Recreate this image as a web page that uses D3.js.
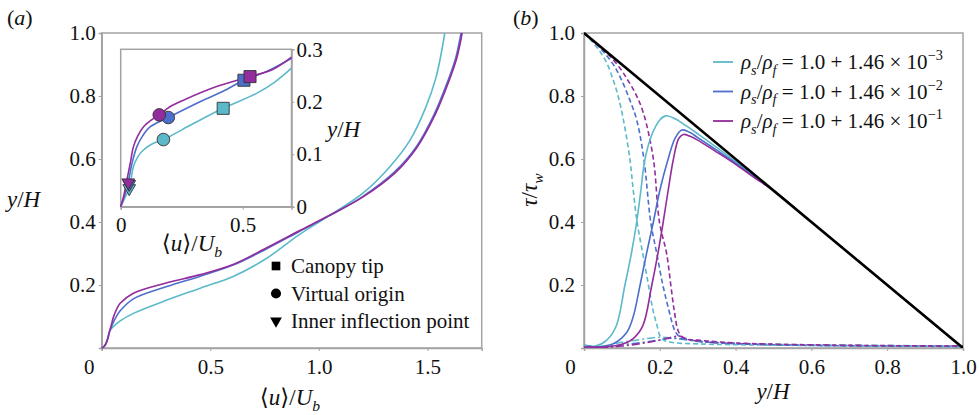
<!DOCTYPE html>
<html><head><meta charset="utf-8">
<script src="https://cdn.jsdelivr.net/npm/d3@7"></script>
<style>html,body{margin:0;padding:0;background:#fff;}svg{display:block;}</style>
</head><body>
<svg id="c" width="979" height="415"></svg>
<script>
// ---------------- DATA ----------------
const seriesLabels = ["−3", "−2", "−1"];   // exponent of 1.46 × 10^n
// Panel (a): mean velocity profiles  [u/Ub, y/H]
const profileCyan = [[0,0],[0.01,0.004],[0.02,0.015],[0.028,0.03],[0.035,0.05],[0.045,0.062],[0.06,0.072],[0.085,0.086],[0.146,0.11],[0.3,0.152],[0.454,0.19],[0.608,0.228],[0.76,0.285],[0.91,0.36],[1.04,0.417],[1.2,0.49],[1.32,0.57],[1.42,0.66],[1.49,0.76],[1.54,0.86],[1.58,1.0]];
const profileBlue = [[0,0],[0.01,0.004],[0.02,0.015],[0.028,0.03],[0.035,0.05],[0.045,0.068],[0.054,0.082],[0.07,0.103],[0.085,0.118],[0.146,0.156],[0.3,0.195],[0.454,0.228],[0.608,0.264],[0.76,0.315],[0.91,0.37],[1.04,0.417],[1.2,0.48],[1.35,0.56],[1.45,0.64],[1.53,0.74],[1.59,0.84],[1.63,0.92],[1.655,1.0]];
const profilePurple = [[0,0],[0.01,0.004],[0.02,0.015],[0.028,0.03],[0.035,0.05],[0.045,0.075],[0.054,0.098],[0.07,0.125],[0.085,0.142],[0.146,0.174],[0.3,0.207],[0.454,0.233],[0.608,0.266],[0.76,0.318],[0.91,0.372],[1.04,0.418],[1.2,0.478],[1.35,0.555],[1.45,0.635],[1.535,0.74],[1.595,0.84],[1.635,0.92],[1.66,1.0]];
// Inset (zoom of near-wall region)
const insetCyan = [[0,0],[0.015,0.015],[0.035,0.035],[0.052,0.076],[0.07,0.095],[0.093,0.108],[0.13,0.12],[0.175,0.128],[0.3,0.159],[0.42,0.1875],[0.557,0.216],[0.63,0.237],[0.7,0.264]];
const insetBlue = [[0,0],[0.015,0.02],[0.03,0.045],[0.045,0.08],[0.066,0.114],[0.09,0.135],[0.12,0.152],[0.195,0.17],[0.325,0.2],[0.42,0.22],[0.505,0.241],[0.6,0.258],[0.7,0.283]];
const insetPurple = [[0,0],[0.012,0.02],[0.025,0.05],[0.04,0.085],[0.052,0.114],[0.07,0.135],[0.093,0.152],[0.125,0.165],[0.158,0.175],[0.2,0.19],[0.257,0.203],[0.393,0.229],[0.53,0.248],[0.625,0.262],[0.7,0.285]];
// Markers: canopy tip, virtual origin, inner inflection point  [u/Ub, y/H]
const canopyTip = [[0.42,0.1875],[0.505,0.241],[0.53,0.248]];
const virtualOrigin = [[0.175,0.128],[0.195,0.17],[0.158,0.175]];
const innerInflection = [[0.035,0.035],[0.035,0.043],[0.031,0.046]];
const markerLegend = ["Canopy tip", "Virtual origin", "Inner inflection point"];
// Panel (b): stress budgets  [y/H, tau/tau_w]
const totalStress = [[0,1],[1,0]];
const solidCyan = [[0,0.008],[0.03,0.006],[0.06,0.025],[0.085,0.07],[0.108,0.2],[0.125,0.3],[0.139,0.4],[0.15,0.5],[0.161,0.6],[0.18,0.68],[0.2,0.724],[0.215,0.737],[0.24,0.728],[0.27,0.705],[0.3,0.68],[0.35,0.637],[0.4,0.592],[0.45,0.546],[0.5,0.5],[0.6,0.4],[1,0]];
const solidBlue = [[0,0.004],[0.05,0.005],[0.08,0.015],[0.113,0.05],[0.13,0.1],[0.148,0.2],[0.165,0.3],[0.183,0.4],[0.2,0.5],[0.222,0.6],[0.24,0.665],[0.258,0.692],[0.28,0.684],[0.3,0.668],[0.35,0.628],[0.4,0.587],[0.45,0.543],[0.5,0.5],[0.6,0.4],[1,0]];
const solidPurple = [[0,0.003],[0.06,0.004],[0.1,0.012],[0.13,0.03],[0.155,0.07],[0.179,0.2],[0.195,0.3],[0.209,0.4],[0.222,0.5],[0.236,0.6],[0.25,0.665],[0.262,0.678],[0.28,0.672],[0.3,0.66],[0.35,0.622],[0.4,0.583],[0.45,0.54],[0.5,0.5],[0.6,0.4],[1,0]];
const dashCyan = [[0,1],[0.02,0.975],[0.04,0.945],[0.06,0.905],[0.077,0.851],[0.09,0.8],[0.104,0.724],[0.121,0.6],[0.13,0.5],[0.14,0.4],[0.155,0.3],[0.17,0.2],[0.182,0.12],[0.192,0.075],[0.2,0.04],[0.21,0.025],[0.23,0.018],[0.3,0.013],[0.5,0.009],[1,0.005]];
const dashBlue = [[0,1],[0.03,0.968],[0.055,0.935],[0.08,0.895],[0.099,0.851],[0.12,0.79],[0.139,0.724],[0.158,0.6],[0.176,0.4],[0.192,0.3],[0.208,0.2],[0.224,0.12],[0.238,0.06],[0.248,0.04],[0.265,0.03],[0.3,0.022],[0.4,0.014],[0.6,0.008],[1,0.005]];
const dashPurple = [[0,1],[0.04,0.958],[0.07,0.925],[0.1,0.88],[0.113,0.855],[0.135,0.81],[0.157,0.745],[0.183,0.6],[0.199,0.4],[0.218,0.3],[0.229,0.2],[0.238,0.12],[0.25,0.05],[0.265,0.03],[0.3,0.025],[0.4,0.016],[0.6,0.01],[1,0.006]];
const dotCyan = [[0,0.01],[0.03,0.004],[0.06,0.008],[0.1,0.018],[0.15,0.027],[0.2,0.034],[0.24,0.03],[0.3,0.022],[0.4,0.015],[0.6,0.01],[0.8,0.008],[1,0.006]];
const dotBlue = [[0,0.008],[0.04,0.003],[0.08,0.007],[0.12,0.013],[0.18,0.022],[0.237,0.031],[0.27,0.027],[0.3,0.021],[0.4,0.014],[0.6,0.009],[1,0.005]];
const dotPurple = [[0,0.006],[0.05,0.002],[0.1,0.006],[0.15,0.014],[0.2,0.025],[0.25,0.038],[0.27,0.03],[0.3,0.022],[0.4,0.014],[0.6,0.009],[1,0.006]];
// Tick values
const aXTicks = [0, 0.5, 1.0, 1.5];
const aYTicks = [0.2, 0.4, 0.6, 0.8, 1.0];
const insetXTicks = [0, 0.5];
const insetYTicks = [0, 0.1, 0.2, 0.3];
const bXTicks = [0, 0.2, 0.4, 0.6, 0.8, 1.0];
const bYTicks = [0.2, 0.4, 0.6, 0.8, 1.0];

// ---------------- STYLE ----------------
const COLORS = ["#5bb9c9", "#4d6fcc", "#932c9c"];
const FONT = "Liberation Serif, Times New Roman, DejaVu Serif, serif";
const FS = 21;
const FT = 23;
const FRAME = "#a3a3a3";

const svg = d3.select("#c").attr("font-family", FONT).style("font-family", FONT);

function fmt(v){ return v === 0 ? "0" : d3.format(".1f")(v); }

function rich(sel, parts, fs){
  let off = 0;
  sel.attr("font-family", FONT).attr("fill", "#111");
  parts.forEach(p => {
    let target = p.sub ? fs*0.28 : (p.sup ? -fs*0.42 : 0);
    sel.append("tspan").text(p.t)
      .attr("dy", target - off)
      .style("font-style", p.i ? "italic" : "normal")
      .style("font-size", (p.sub || p.sup) ? (fs*0.68)+"px" : fs+"px");
    off = target;
  });
}
function styleAxis(a){
  a.attr("font-family", FONT);
  a.select(".domain").attr("stroke", FRAME).attr("stroke-width", 1.5);
  a.selectAll(".tick line").attr("stroke", FRAME);
  a.selectAll("text").attr("font-family", FONT).attr("font-size", FS).attr("fill", "#111");
}

// ---------- Panel (a) ----------
const ax = d3.scaleLinear().domain([0, 1.75]).range([101.7, 481.7]);
const ay = d3.scaleLinear().domain([0, 1]).range([348, 33]);
const gA = svg.append("g");
gA.append("rect").attr("x", ax(0)).attr("y", ay(1)).attr("width", ax(1.75)-ax(0)).attr("height", ay(0)-ay(1))
  .attr("fill", "#fff").attr("stroke", FRAME).attr("stroke-width", 1.5);
const aXAxis = gA.append("g").attr("transform", `translate(0,${ay(0)})`)
  .call(d3.axisBottom(ax).tickValues(aXTicks).tickSize(3).tickFormat(fmt));
const aYAxis = gA.append("g").attr("transform", `translate(${ax(0)},0)`)
  .call(d3.axisLeft(ay).tickValues(aYTicks).tickSize(3).tickFormat(fmt));
styleAxis(aXAxis); styleAxis(aYAxis);
aXAxis.selectAll("text").attr("y", 11);
aXAxis.selectAll(".tick").filter(d => d === 0).select("text").attr("x", -13);
aYAxis.selectAll("text").attr("x", -6);

const lineA = d3.line().x(d => ax(d[0])).y(d => ay(d[1])).curve(d3.curveCatmullRom.alpha(0.5));
[profileCyan, profileBlue, profilePurple].forEach((p, i) => {
  gA.append("path").datum(p).attr("d", lineA).attr("fill", "none")
    .attr("stroke", COLORS[i]).attr("stroke-width", 1.6);
});

// axis labels (a)
rich(svg.append("text").attr("x", 7).attr("y", 25), [{t:"("},{t:"a",i:true},{t:")"}], 22);
rich(svg.append("text").attr("x", 7).attr("y", 207), [{t:"y",i:true},{t:"/"},{t:"H",i:true}], FT);
rich(svg.append("text").attr("x", 290).attr("y", 405).attr("text-anchor", "middle"),
  [{t:"⟨"},{t:"u",i:true},{t:"⟩/"},{t:"U",i:true},{t:"b",i:true,sub:true}], FT);

// marker legend
const legA = svg.append("g");
const symTypes = [d3.symbolSquare, d3.symbolCircle, d3.symbolTriangle];
markerLegend.forEach((t, i) => {
  const yy = 266 + i*27.5;
  legA.append("path").attr("transform", `translate(276,${yy})` + (i === 2 ? " rotate(180)" : ""))
    .attr("d", d3.symbol().type(symTypes[i]).size(i === 1 ? 80 : (i===2?60:75))()).attr("fill", "#000");
  rich(legA.append("text").attr("x", 291).attr("y", yy + 7), [{t:t}], FS);
});

// ---------- Inset ----------
const ix = d3.scaleLinear().domain([0, 0.7]).range([120.7, 291.5]);
const iy = d3.scaleLinear().domain([0, 0.3]).range([206.7, 49.3]);
const gI = svg.append("g");
gI.append("rect").attr("x", ix(0)).attr("y", iy(0.3)).attr("width", ix(0.7)-ix(0)).attr("height", iy(0)-iy(0.3))
  .attr("fill", "#fff").attr("stroke", FRAME).attr("stroke-width", 1.5);
const iXAxis = gI.append("g").attr("transform", `translate(0,${iy(0)})`)
  .call(d3.axisBottom(ix).tickValues(insetXTicks).tickSize(3).tickFormat(fmt));
const iYAxis = gI.append("g").attr("transform", `translate(${ix(0.7)},0)`)
  .call(d3.axisRight(iy).tickValues(insetYTicks).tickSize(3).tickFormat(fmt));
styleAxis(iXAxis); styleAxis(iYAxis);
iXAxis.selectAll("text").attr("y", 10);
iYAxis.selectAll("text").attr("x", 5);
const lineI = d3.line().x(d => ix(d[0])).y(d => iy(d[1])).curve(d3.curveCatmullRom.alpha(0.5));
[insetCyan, insetBlue, insetPurple].forEach((p, i) => {
  gI.append("path").datum(p).attr("d", lineI).attr("fill", "none")
    .attr("stroke", COLORS[i]).attr("stroke-width", 1.6);
});
function drawMarkers(arr, type, size, rot){
  arr.forEach((d, i) => {
    gI.append("path").attr("transform", `translate(${ix(d[0])},${iy(d[1])})` + (rot ? " rotate(180)" : ""))
      .attr("d", d3.symbol().type(type).size(size)())
      .attr("fill", COLORS[i]).attr("stroke", "#333").attr("stroke-width", 0.9);
  });
}
drawMarkers(innerInflection, d3.symbolTriangle, 70, true);
drawMarkers(virtualOrigin, d3.symbolCircle, 125, false);
drawMarkers(canopyTip, d3.symbolSquare, 145, false);
rich(svg.append("text").attr("x", 327).attr("y", 137), [{t:"y",i:true},{t:"/"},{t:"H",i:true}], FT);
rich(svg.append("text").attr("x", 192).attr("y", 251).attr("text-anchor", "middle"),
  [{t:"⟨"},{t:"u",i:true},{t:"⟩/"},{t:"U",i:true},{t:"b",i:true,sub:true}], FT);

// ---------- Panel (b) ----------
const bx = d3.scaleLinear().domain([0, 1]).range([584, 963]);
const by = d3.scaleLinear().domain([0, 1]).range([348, 33]);
const gB = svg.append("g");
gB.append("rect").attr("x", bx(0)).attr("y", by(1)).attr("width", bx(1)-bx(0)).attr("height", by(0)-by(1))
  .attr("fill", "#fff").attr("stroke", FRAME).attr("stroke-width", 1.5);
const bXAxis = gB.append("g").attr("transform", `translate(0,${by(0)})`)
  .call(d3.axisBottom(bx).tickValues(bXTicks).tickSize(3).tickFormat(fmt));
const bYAxis = gB.append("g").attr("transform", `translate(${bx(0)},0)`)
  .call(d3.axisLeft(by).tickValues(bYTicks).tickSize(3).tickFormat(fmt));
styleAxis(bXAxis); styleAxis(bYAxis);
bXAxis.selectAll("text").attr("y", 11);
bXAxis.selectAll(".tick").filter(d => d === 0).select("text").attr("x", -14);
bYAxis.selectAll("text").attr("x", -9);

svg.append("clipPath").attr("id", "clipB").append("rect")
  .attr("x", bx(0)).attr("y", by(1)-2).attr("width", bx(1)-bx(0)).attr("height", by(0)-by(1)+2);
const gBL = gB.append("g").attr("clip-path", "url(#clipB)");
const lineB = d3.line().x(d => bx(d[0])).y(d => by(d[1])).curve(d3.curveCatmullRom.alpha(0.5));
[dotCyan, dotBlue, dotPurple].forEach((p, i) => {
  gBL.append("path").datum(p).attr("d", lineB).attr("fill", "none")
    .attr("stroke", COLORS[i]).attr("stroke-width", 1.5).attr("stroke-dasharray", "8,3,2,3");
});
[dashCyan, dashBlue, dashPurple].forEach((p, i) => {
  gBL.append("path").datum(p).attr("d", lineB).attr("fill", "none")
    .attr("stroke", COLORS[i]).attr("stroke-width", 1.6).attr("stroke-dasharray", "5,3");
});
[solidCyan, solidBlue, solidPurple].forEach((p, i) => {
  gBL.append("path").datum(p).attr("d", lineB).attr("fill", "none")
    .attr("stroke", COLORS[i]).attr("stroke-width", 1.6);
});
gBL.append("path").datum(totalStress).attr("d", d3.line().x(d => bx(d[0])).y(d => by(d[1])))
  .attr("fill", "none").attr("stroke", "#000").attr("stroke-width", 2.6);

// legend (b)
seriesLabels.forEach((e, i) => {
  const yy = 62 + i*29.5;
  svg.append("line").attr("x1", 713).attr("x2", 733).attr("y1", yy).attr("y2", yy)
    .attr("stroke", COLORS[i]).attr("stroke-width", 1.8);
  rich(svg.append("text").attr("x", 741).attr("y", yy + 7),
    [{t:"ρ",i:true},{t:"s",i:true,sub:true},{t:"/"},{t:"ρ",i:true},{t:"f",i:true,sub:true},
     {t:" = 1.0 + 1.46 × 10"},{t:e,sup:true}], FS);
});

rich(svg.append("text").attr("x", 513).attr("y", 25), [{t:"("},{t:"b",i:true},{t:")"}], 22);
rich(svg.append("text").attr("x", 773).attr("y", 399).attr("text-anchor", "middle"),
  [{t:"y",i:true},{t:"/"},{t:"H",i:true}], FT);
rich(svg.append("text").attr("transform", "translate(537,190) rotate(-90)").attr("text-anchor", "middle"),
  [{t:"τ",i:true},{t:"/"},{t:"τ",i:true},{t:"w",i:true,sub:true}], FT);
</script>
</body></html>
